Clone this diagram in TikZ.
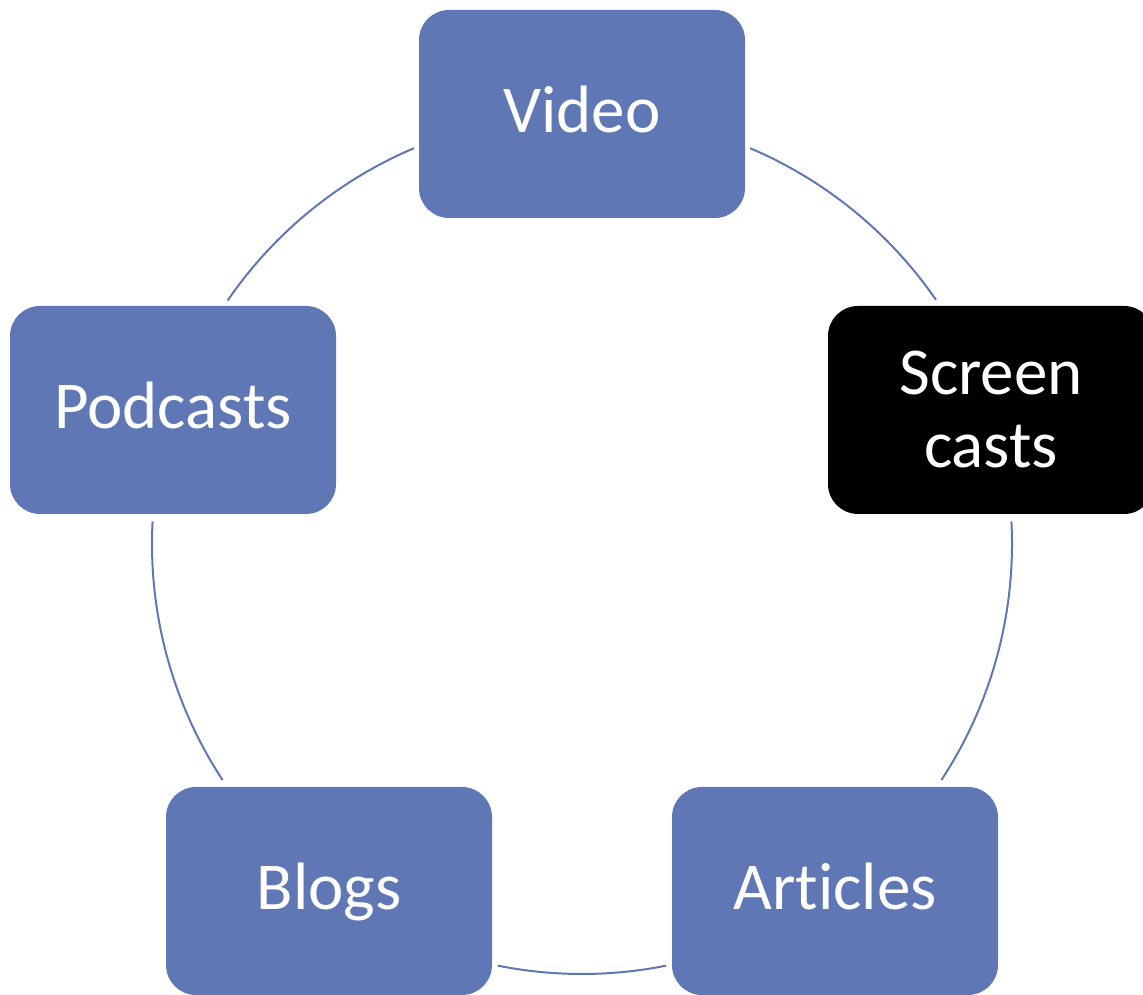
\documentclass[tikz,border=0pt]{standalone}
\usepackage{fontspec}
\setmainfont[Ligatures=NoCommon]{Carlito}
\definecolor{boxblue}{HTML}{5F77B4}
\definecolor{lineblue}{HTML}{5F77B4}
\begin{document}
\begin{tikzpicture}[x=1pt,y=1pt,
  item/.style={rectangle, rounded corners=30pt, minimum width=326pt, minimum height=208pt,
    inner sep=0pt, fill=boxblue, text=white, align=center,
    font=\fontsize{67}{73}\selectfont, text height=52pt, text depth=14pt},
  dark/.style={item, fill=black, text height=, text depth=},
  link/.style={draw=lineblue, line width=2pt}]
\useasboundingbox (0,0) rectangle (1143,995);
\coordinate (c) at (582,451);
\node[item] (video) at (582,881) {Video};
\node[dark] (screen) at (991,585) {\raisebox{6pt}{\parbox{300pt}{\centering Screen\\casts}}};
\node[item] (articles) at (835,104) {Articles};
\node[item] (blogs) at (329,104) {Blogs};
\node[item] (podcasts) at (173,585) {Podcasts};
\path (c) ++(67:430) coordinate (a1) (c) ++(3:430) coordinate (a2)
      (c) ++(281.3:430) coordinate (a3) (c) ++(213.3:430) coordinate (a4)
      (c) ++(145.5:430) coordinate (a5);
\draw[link] (a1) arc[start angle=67, end angle=34.6, radius=430];
\draw[link] (a2) arc[start angle=3, end angle=-33.3, radius=430];
\draw[link] (a3) arc[start angle=281.3, end angle=258.7, radius=430];
\draw[link] (a4) arc[start angle=213.3, end angle=177, radius=430];
\draw[link] (a5) arc[start angle=145.5, end angle=113, radius=430];
\end{tikzpicture}
\end{document}
